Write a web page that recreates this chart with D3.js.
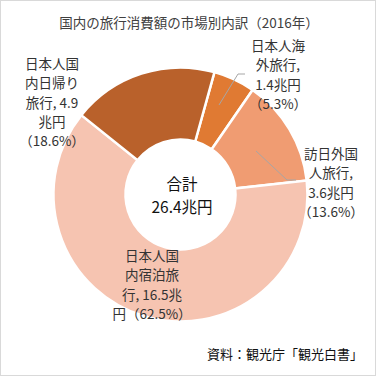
<!DOCTYPE html>
<html>
<head>
<meta charset="utf-8">
<script src="https://cdn.jsdelivr.net/npm/d3@7"></script>
<style>
  body { margin: 0; background: #fff; }
  svg { display: block; font-family: "Noto Sans CJK JP", "Noto Sans", sans-serif; }
</style>
</head>
<body>
<svg width="376" height="376"></svg>
<script>
// data (clockwise from the top)
var segments = ["日本人海外旅行", "訪日外国人旅行", "日本人国内宿泊旅行", "日本人国内日帰り旅行"];
var values = [1.4, 3.6, 16.5, 4.9];
var shares = ["5.3%", "13.6%", "62.5%", "18.6%"];
var colors = ["#E07A33", "#F09C72", "#F6C4B1", "#B9612B"];
// label lines as drawn in the chart (wrapped by hand)
var labelLines = [
  ["日本人海", "外旅行,", "1.4兆円", "（5.3%）"],
  ["訪日外国", "人旅行,", "3.6兆円", "（13.6%）"],
  ["日本人国", "内宿泊旅", "行, 16.5兆", "円（62.5%）"],
  ["日本人国", "内日帰り", "旅行, 4.9", "兆円", "（18.6%）"]
];
var labelPos = [[278, 45], [331, 153], [152, 255], [52, 63]];
var totalText = ["合計", "26.4兆円"];

var svg = d3.select("svg"),
    cx = 180.5, cy = 194.5,
    rOuter = 127, rInner = 55;

svg.append("rect")
  .attr("x", 0.5).attr("y", 0.5)
  .attr("width", 375).attr("height", 375)
  .attr("fill", "#fff").attr("stroke", "#d9d9d9");

svg.append("text")
  .attr("x", 189).attr("y", 22)
  .attr("text-anchor", "middle").attr("dominant-baseline", "central")
  .attr("font-size", 13.5).attr("fill", "#404040")
  .text("国内の旅行消費額の市場別内訳（2016年）");

var pie = d3.pie().sort(null)
  .startAngle(15.5 * Math.PI / 180)
  .endAngle((15.5 + 360) * Math.PI / 180);
var arc = d3.arc().innerRadius(rInner).outerRadius(rOuter);

var g = svg.append("g").attr("transform", "translate(" + cx + "," + cy + ")");

g.selectAll("path")
  .data(pie(values))
  .enter().append("path")
    .attr("d", arc)
    .attr("fill", function(d, i) { return colors[i]; })
    .attr("stroke", "#fff")
    .attr("stroke-width", 2.5);

// leader lines for the two small slices
var leaders = [
  [[219, 105], [238, 74], [245, 74]],
  [[256, 151], [287, 180], [296, 180]]
];
svg.selectAll(".leader")
  .data(leaders)
  .enter().append("polyline")
    .attr("class", "leader")
    .attr("points", function(d) { return d.map(function(p) { return p.join(","); }).join(" "); })
    .attr("fill", "none")
    .attr("stroke", "#a6a6a6")
    .attr("stroke-width", 1);

// slice labels
labelLines.forEach(function(lines, i) {
  var t = svg.append("text")
    .attr("text-anchor", "middle")
    .attr("font-size", 13.5)
    .attr("fill", "#333");
  lines.forEach(function(s, j) {
    t.append("tspan")
      .attr("x", labelPos[i][0])
      .attr("y", labelPos[i][1] + j * 19.3)
      .attr("dominant-baseline", "central")
      .text(s);
  });
});

// total in the hole
totalText.forEach(function(s, j) {
  svg.append("text")
    .attr("x", 182).attr("y", 183 + j * 23)
    .attr("text-anchor", "middle").attr("dominant-baseline", "central")
    .attr("font-size", 15.5).attr("fill", "#111")
    .text(s);
});

svg.append("text")
  .attr("x", 363).attr("y", 353)
  .attr("text-anchor", "end").attr("dominant-baseline", "central")
  .attr("font-size", 13).attr("fill", "#111")
  .text("資料：観光庁「観光白書」");
</script>
</body>
</html>
